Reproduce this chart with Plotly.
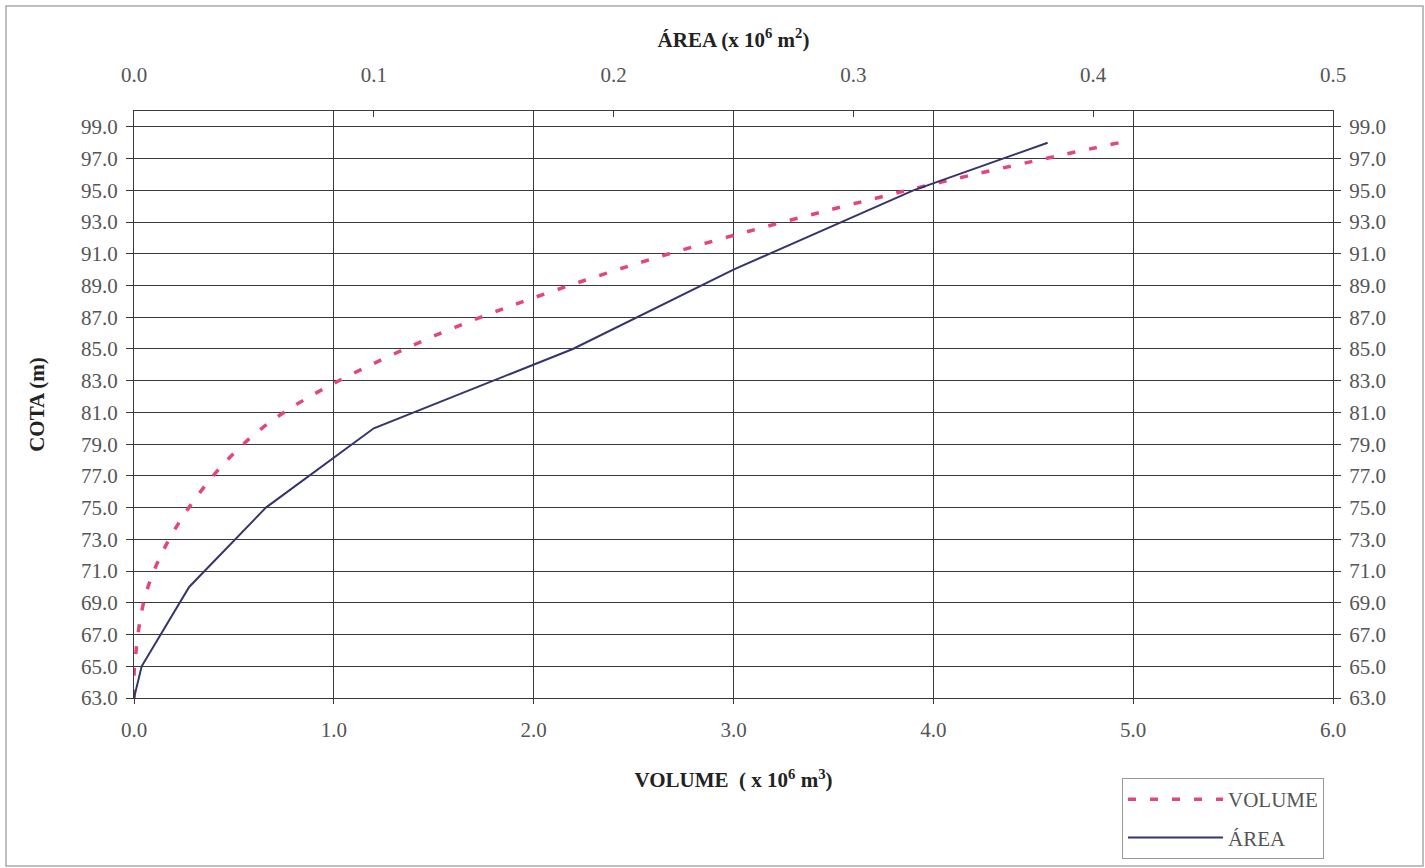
import plotly.graph_objects as go

# Data
cota = [63, 65, 70, 75, 80, 85, 90, 95, 98]
volume = [0.0, 0.003, 0.07, 0.275, 0.64, 1.355, 2.42, 3.87, 4.93]   # x 10^6 m3
area = [0.0, 0.0032, 0.023, 0.055, 0.100, 0.183, 0.250, 0.325, 0.381]  # x 10^6 m2

y_ticks = list(range(63, 100, 2))
vol_ticks = [0, 1, 2, 3, 4, 5, 6]
area_ticks = [0.0, 0.1, 0.2, 0.3, 0.4, 0.5]

FONT = "Liberation Serif"
TICK_COLOR = "#555555"
GRID = "#3a3a3a"

W, H = 1425, 868
L, R, T, B = 134, 92, 111, 170
pw, ph = W - L - R, H - T - B

fig = go.Figure()

fig.add_trace(go.Scatter(
    x=volume, y=cota, name="VOLUME", mode="lines", legendgroup="v",
    line=dict(color="#E4457A", width=3.5, dash="8px,14px", shape="spline", smoothing=1.0),
    xaxis="x", yaxis="y",
))
fig.add_trace(go.Scatter(
    x=area, y=cota, name="ÁREA", mode="lines", legendgroup="a",
    line=dict(color="#34346E", width=2),
    xaxis="x2", yaxis="y2",
))

tickfont = dict(family=FONT, size=21, color=TICK_COLOR)
titlefont = dict(family=FONT, size=21, color="#222222", weight="bold")

fig.update_layout(
    width=W, height=H,
    margin=dict(l=L, r=R, t=T, b=B, pad=0, autoexpand=False),
    paper_bgcolor="white", plot_bgcolor="white",
    showlegend=True,
    legend=dict(
        x=(1122 - L) / pw, y=(H - B - 778) / ph, xanchor="left", yanchor="top",
        bordercolor="#999999", borderwidth=1, bgcolor="white",
        font=dict(family=FONT, size=21, color=TICK_COLOR),
        tracegroupgap=8, itemwidth=95,
    ),
    xaxis=dict(
        range=[0, 6], tickvals=vol_ticks, tickformat=".1f",
        showgrid=True, gridcolor=GRID, gridwidth=1,
        showline=True, linecolor=GRID, linewidth=1,
        ticks="outside", ticklen=5, tickcolor=GRID,
        tickfont=tickfont, zeroline=False, ticklabelstandoff=8,
        title=dict(text="VOLUME  ( x 10<sup>6</sup> m<sup>3</sup>)", font=titlefont, standoff=31),
        anchor="y", automargin=False,
    ),
    yaxis=dict(
        range=[63, 100], tickvals=y_ticks, tickformat=".1f",
        showgrid=True, gridcolor=GRID, gridwidth=1,
        showline=True, linecolor=GRID, linewidth=1,
        ticks="outside", ticklen=7, tickcolor=GRID,
        tickfont=tickfont, zeroline=False, ticklabelstandoff=4,
        title=dict(text="COTA (m)", font=titlefont, standoff=30),
        anchor="x", automargin=False,
    ),
    xaxis2=dict(
        range=[0, 0.5], tickvals=area_ticks, tickformat=".1f",
        overlaying="x", side="top", anchor="y2",
        showgrid=False, showline=True, linecolor=GRID, linewidth=1,
        ticks="inside", ticklen=6, tickcolor=GRID,
        tickfont=tickfont, zeroline=False, ticklabelstandoff=20,
        title=dict(text="ÁREA (x 10<sup>6</sup> m<sup>2</sup>)", font=titlefont, standoff=9),
        automargin=False,
    ),
    yaxis2=dict(
        range=[63, 100], tickvals=y_ticks, tickformat=".1f",
        overlaying="y", side="right", anchor="x2", matches="y",
        showgrid=False, showline=True, linecolor=GRID, linewidth=1,
        ticks="outside", ticklen=7, tickcolor=GRID,
        tickfont=tickfont, zeroline=False, ticklabelstandoff=4,
        automargin=False,
    ),
    shapes=[dict(
        type="rect", xref="paper", yref="paper", layer="below",
        x0=(6 - L) / pw, x1=(1423 - L) / pw,
        y0=(H - B - 866) / ph, y1=(H - B - 6) / ph,
        line=dict(color="#aaaaaa", width=1.5), fillcolor="rgba(0,0,0,0)",
    )],
)

fig.write_html("out.html", config={"displayModeBar": False})
